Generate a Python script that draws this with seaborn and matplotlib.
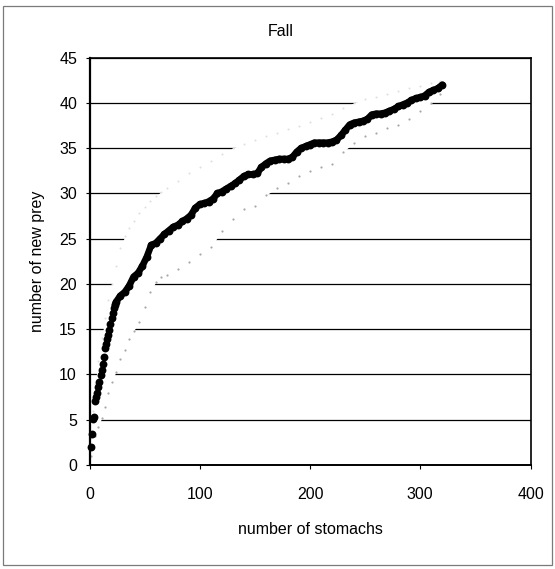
import matplotlib
matplotlib.use("Agg")
import matplotlib.pyplot as plt
import seaborn as sns
from matplotlib.patches import Rectangle

# ---- data ----
stomachs = [1, 2, 3, 4, 5, 6, 7, 8, 9, 10, 11, 12, 13, 14, 15, 16, 17, 18, 19, 20, 21, 22, 23,
            24, 28, 32, 36, 40, 44, 48, 52, 56, 60, 64, 68, 72, 76, 80, 84, 88, 92, 96, 100,
            104, 108, 112, 116, 120, 124, 128, 132, 136, 140, 144, 148, 152, 156, 160, 164,
            168, 172, 176, 180, 184, 188, 192, 196, 200, 204, 208, 212, 216, 220, 224, 228,
            232, 236, 240, 244, 248, 252, 256, 260, 264, 268, 272, 276, 280, 284, 288, 292,
            296, 300, 304, 308, 312, 316, 320]
new_prey = [2.0, 3.4, 5.1, 5.3, 7.1, 7.5, 7.9, 8.6, 9.2, 9.9, 10.5, 11.2, 11.9, 12.9, 13.4,
            13.9, 14.4, 14.9, 15.6, 16.2, 16.8, 17.3, 17.7,
            18.0, 18.7, 19.1, 19.8, 20.8, 21.2, 22.0, 23.0, 24.3, 24.5, 25.0, 25.5, 25.9, 26.3,
            26.5, 26.9, 27.2, 27.6, 28.4, 28.8, 28.9, 29.1, 29.4, 30.0, 30.2, 30.5, 30.8, 31.1,
            31.5, 31.9, 32.1, 32.1, 32.2, 32.9, 33.3, 33.6, 33.7, 33.8, 33.8, 33.8, 34.0, 34.6,
            35.0, 35.2, 35.4, 35.6, 35.6, 35.6, 35.6, 35.7, 35.9, 36.4, 37.0, 37.6, 37.8, 37.9,
            38.0, 38.2, 38.7, 38.8, 38.8, 38.9, 39.1, 39.3, 39.6, 39.8, 40.0, 40.3, 40.5, 40.6,
            40.8, 41.2, 41.4, 41.6, 42.0]

band_stomachs = [1, 3, 5, 8, 11, 14, 17, 20, 24, 28, 32, 36, 40, 45, 50, 55, 60, 65, 70, 80,
                 90, 100, 110, 120, 130, 140, 150, 160, 170, 180, 190, 200, 210, 220, 230, 240,
                 250, 260, 270, 280, 290, 300, 310, 318]
upper_prey = [3.0, 6.0, 9.0, 11.5, 14.0, 16.2, 18.2, 20.0, 22.0, 24.0, 25.3, 26.2, 26.9, 27.8,
              28.5, 29.2, 29.7, 30.2, 30.6, 31.4, 32.2, 32.9, 33.6, 34.3, 35.0, 35.5, 35.9,
              36.3, 36.7, 37.1, 37.5, 37.9, 38.3, 38.8, 39.4, 40.0, 40.4, 40.7, 41.0, 41.3,
              41.6, 41.9, 42.2, 42.4]
lower_prey = [1.0, 2.2, 3.2, 4.2, 5.2, 6.4, 8.0, 9.2, 10.3, 11.7, 12.7, 13.9, 14.8, 15.8,
              17.5, 19.1, 20.2, 20.8, 21.0, 21.6, 22.4, 23.3, 24.1, 25.8, 27.2, 28.3, 28.6,
              29.8, 30.6, 31.2, 31.9, 32.5, 32.9, 33.2, 34.6, 35.6, 36.3, 36.7, 37.2, 37.6,
              38.2, 39.1, 40.0, 41.0]

y_ticks = [0, 5, 10, 15, 20, 25, 30, 35, 40, 45]
x_ticks = [0, 100, 200, 300, 400]

# ---- style ----
sns.set_theme(style="white")
plt.rcParams["font.family"] = ["Liberation Sans", "DejaVu Sans"]

W, H = 555, 569
fig = plt.figure(figsize=(W / 100, H / 100), dpi=100)
fig.patch.set_facecolor("white")

left, right, top, bottom = 89.5, 530.5, 57.6, 465.0
ax = fig.add_axes([left / W, 1 - bottom / H, (right - left) / W, (bottom - top) / H])
ax.set_facecolor("white")

ax.set_xlim(0, 400)
ax.set_ylim(0, 45)
ax.set_xticks(x_ticks)
ax.set_yticks(y_ticks)
ax.set_axisbelow(True)
ax.yaxis.grid(True, color="black", linewidth=0.9)
ax.xaxis.grid(False)

# light envelope (scanned almost to white) hides the gridlines
ax.fill_between(band_stomachs, lower_prey, upper_prey, color="white", linewidth=0, zorder=1.5)
sns.scatterplot(x=band_stomachs, y=lower_prey, s=2.5, color="#a8a8a8", linewidth=0,
                ax=ax, zorder=2, legend=False)
sns.scatterplot(x=band_stomachs, y=upper_prey, s=2, color="#dedede", linewidth=0,
                ax=ax, zorder=2, legend=False)

# observed cumulative curve: dense markers merge into a thick line
n_sep = 22
sns.lineplot(x=stomachs[n_sep:], y=new_prey[n_sep:], color="black", linewidth=4.8,
             ax=ax, zorder=3, legend=False, sort=False, estimator=None)
sns.scatterplot(x=stomachs, y=new_prey, s=32, color="black", linewidth=0,
                ax=ax, zorder=3, legend=False, clip_on=False)

for name, sp in ax.spines.items():
    sp.set_visible(True)
    sp.set_color("black")
    sp.set_linewidth(1.2)
ax.spines["left"].set_linewidth(1.6)
ax.spines["bottom"].set_linewidth(1.4)

ax.tick_params(axis="both", which="major", direction="out", length=3, width=0.8,
               color="black", labelsize=11.5, labelcolor="black", left=True, bottom=True)
ax.tick_params(axis="x", pad=13)
ax.tick_params(axis="y", pad=6)

ax.set_xlabel("number of stomachs", fontsize=11.5, labelpad=14, color="black")
ax.set_ylabel("number of new prey", fontsize=11.5, labelpad=10, color="black")

fig.text(281 / W, 1 - 31 / H, "Fall", ha="center", va="center", fontsize=11.5, color="black")

# chart-area border
fig.patches.append(Rectangle((3 / W, 4 / H), (552 - 3) / W, (564 - 5) / H,
                             transform=fig.transFigure, fill=False,
                             edgecolor="#7a7a7a", linewidth=0.9))

fig.savefig("out.png", dpi=100)
